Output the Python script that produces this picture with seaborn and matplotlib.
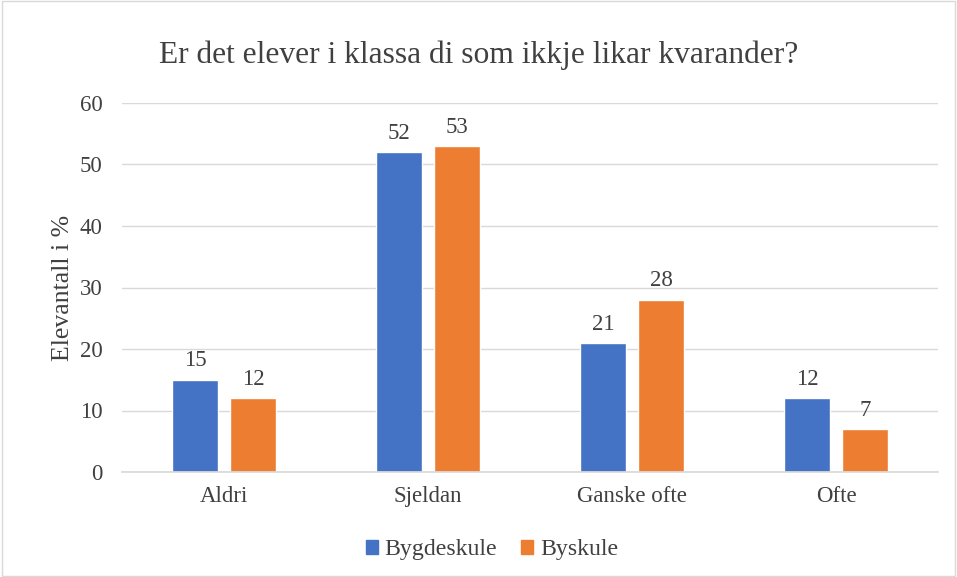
import pandas as pd
import numpy as np
import matplotlib.pyplot as plt
import seaborn as sns

# data
categories = ['Aldri', 'Sjeldan', 'Ganske ofte', 'Ofte']
bygdeskule = [15, 52, 21, 12]
byskule = [12, 53, 28, 7]
series_names = ['Bygdeskule', 'Byskule']

df = pd.DataFrame({
    'kategori': categories * 2,
    'verdi': bygdeskule + byskule,
    'skule': [series_names[0]] * 4 + [series_names[1]] * 4,
})

sns.set_theme(style='white')
plt.rcParams['font.family'] = ['Liberation Serif', 'DejaVu Serif']

colors = ['#4472C4', '#ED7D31']

fig = plt.figure(figsize=(9.57, 5.77), dpi=100)
ax = fig.add_axes([122 / 957, 1 - 472 / 577, 816 / 957, 369 / 577])

sns.barplot(data=df, x='kategori', y='verdi', hue='skule', order=categories,
            hue_order=series_names, palette=colors, width=0.57, gap=0.2,
            saturation=1, ax=ax, legend=False)

for cont in ax.containers:
    ax.bar_label(cont, fontsize=16.5, padding=6, color='#404040')

ax.set_ylim(0, 60)
ax.set_yticks(range(0, 61, 10))
ax.set_xlim(-0.5, 3.5)
ax.yaxis.grid(True, color='#d9d9d9', linewidth=1)
ax.set_axisbelow(True)
for s in ['top', 'right', 'left']:
    ax.spines[s].set_visible(False)
ax.spines['bottom'].set_color('#d9d9d9')
ax.tick_params(axis='both', labelsize=16.5, colors='#404040', length=0)
ax.tick_params(axis='y', pad=14)
ax.tick_params(axis='x', pad=10)
ax.set_xlabel('')
ax.set_ylabel('Elevantall i %', fontsize=18.5, color='#404040', labelpad=4)

fig.text(0.5, 1 - 55 / 577, 'Er det elever i klassa di som ikkje likar kvarander?',
         ha='center', va='center', fontsize=22.7, color='#404040')

handles = [plt.Rectangle((0, 0), 1, 1, color=c) for c in colors]
fig.legend(handles, series_names, loc='center', bbox_to_anchor=(492 / 957, 1 - 550 / 577),
           ncol=2, frameon=False, fontsize=17.2, handlelength=0.5, handleheight=0.5,
           handletextpad=0.3, columnspacing=1.0, labelcolor='#404040')

fig.patches.append(plt.Rectangle((0.002, 0.002), 0.996, 0.996, transform=fig.transFigure,
                                 fill=False, edgecolor='#d9d9d9', linewidth=1))

fig.savefig('out.png', dpi=100)
